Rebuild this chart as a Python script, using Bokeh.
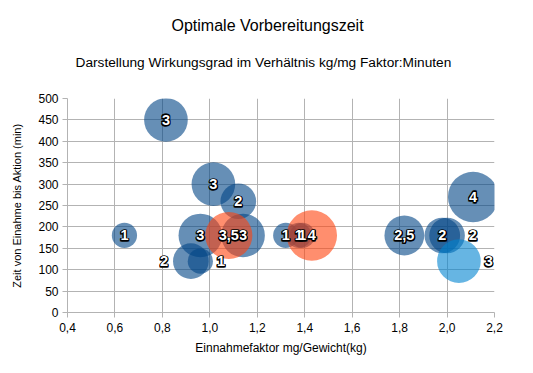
import math
from bokeh.plotting import figure
from bokeh.models import ColumnDataSource, FixedTicker, CustomJSTickFormatter, Title
from bokeh.core.properties import value
from bokeh.embed import file_html
from bokeh.resources import INLINE

title = "Optimale Vorbereitungszeit"
subtitle = "Darstellung Wirkungsgrad im Verhältnis kg/mg Faktor:Minuten"
x_title = "Einnahmefaktor mg/Gewicht(kg)"
y_title = "Zeit von Einahme bis Aktion (min)"

x_ticks = [0.4, 0.6, 0.8, 1.0, 1.2, 1.4, 1.6, 1.8, 2.0, 2.2]
y_ticks = [0, 50, 100, 150, 200, 250, 300, 350, 400, 450, 500]

# series 1 (dark blue)
blue_x = [0.815, 0.64, 1.015, 1.12, 0.96, 1.14, 0.92, 0.96, 1.32, 1.375, 1.39, 1.82, 1.98, 2.00, 2.11]
blue_y = [450, 180, 300, 260, 180, 180, 120, 120, 180, 180, 180, 180, 180, 180, 270]
blue_s = [3, 1, 3, 2, 3, 3, 2, 1, 1, 1, 1, 2.5, 2, 2, 4]
blue_side = ["c", "c", "c", "c", "c", "c", "l", "r", "c", "c", "c", "c", "c", "r", "c"]

# series 2 (orange-red)
red_x = [1.08, 1.43]
red_y = [180, 180]
red_s = [3.5, 4]
red_side = ["c", "c"]

# series 3 (light blue)
lb_x = [2.05]
lb_y = [120]
lb_s = [3]
lb_side = ["r"]

SCALE = 25.2  # px diameter per sqrt(size)
FONT = "Liberation Sans"
HALO = [(-0.6, -0.6), (0.6, -0.6), (-0.6, 0.6), (0.6, 0.6)]


def fmt(v):
    return ("%g" % v).replace(".", ",")


def make_source(xs, ys, ss, sides):
    d = [SCALE * math.sqrt(s) for s in ss]
    offs = []
    for di, side in zip(d, sides):
        if side == "l":
            offs.append(-(di / 2 + 9))
        elif side == "r":
            offs.append(di / 2 + 8)
        else:
            offs.append(0)
    data = dict(x=xs, y=ys, d=d, lab=[fmt(s) for s in ss], dx=offs)
    for i, (hx, hy) in enumerate(HALO):
        data["hx%d" % i] = [o + hx for o in offs]
    return ColumnDataSource(data)


p = figure(width=517, height=357, output_backend="svg", toolbar_location=None,
           x_range=(0.4, 2.2), y_range=(0, 500),
           min_border_left=67, min_border_right=23, min_border_top=98, min_border_bottom=40)
p.outline_line_color = None
p.background_fill_color = "white"

for ax in (p.xaxis[0], p.yaxis[0]):
    ax.axis_line_color = "#b3b3b3"
    ax.major_tick_line_color = "#b3b3b3"
    ax.major_tick_in = 0
    ax.major_tick_out = 5
    ax.minor_tick_line_color = None
    ax.major_label_text_font = FONT
    ax.major_label_text_font_size = "12px"
    ax.major_label_text_color = "#000000"
    ax.axis_label_text_font = FONT
    ax.axis_label_text_font_style = "normal"
    ax.axis_label_text_color = "#000000"

p.xaxis.axis_label = x_title
p.xaxis.axis_label_text_font_size = "12px"
p.xaxis.axis_label_standoff = 6
p.yaxis.axis_label = y_title
p.yaxis.axis_label_text_font_size = "11px"
p.yaxis.axis_label_standoff = 12

p.xaxis.ticker = FixedTicker(ticks=x_ticks)
p.yaxis.ticker = FixedTicker(ticks=y_ticks)
p.xaxis.formatter = CustomJSTickFormatter(code="return tick.toFixed(1).replace('.', ',');")
p.xaxis.major_label_standoff = 5
p.yaxis.major_label_standoff = 4

p.xgrid.ticker = FixedTicker(ticks=x_ticks)
p.ygrid.ticker = FixedTicker(ticks=y_ticks)
p.grid.grid_line_color = "#b3b3b3"
p.grid.grid_line_width = 1

series = [
    (blue_x, blue_y, blue_s, blue_side, "#004586"),
    (red_x, red_y, red_s, red_side, "#ff420e"),
    (lb_x, lb_y, lb_s, lb_side, "#0084d1"),
]
sources = []
for xs, ys, ss, sides, col in series:
    src = make_source(xs, ys, ss, sides)
    sources.append(src)
    p.scatter("x", "y", size="d", source=src, fill_color=col, fill_alpha=0.6, line_color=None)

for src in sources:
    # black halo copies, then white digits on top -> outlined labels
    for i, (hx, hy) in enumerate(HALO):
        p.text("x", "y", text="lab", x_offset="hx%d" % i, y_offset=hy, source=src,
               text_align="center", text_baseline="middle", text_color="black",
               text_outline_color="black", text_font=value(FONT),
               text_font_size="14.5px", text_font_style="bold")
    p.text("x", "y", text="lab", x_offset="dx", source=src, text_align="center",
           text_baseline="middle", text_color="white",
           text_font=value(FONT), text_font_size="14.5px", text_font_style="bold")

p.add_layout(Title(text=subtitle, align="left", offset=8, standoff=57, text_font=FONT,
                   text_font_size="13.7px", text_font_style="normal", text_color="#000000"), "above")
p.add_layout(Title(text=title, align="left", offset=104, standoff=-19, text_font=FONT,
                   text_font_size="16px", text_font_style="normal", text_color="#000000"), "above")

open("out.html", "w").write(file_html(p, INLINE))
